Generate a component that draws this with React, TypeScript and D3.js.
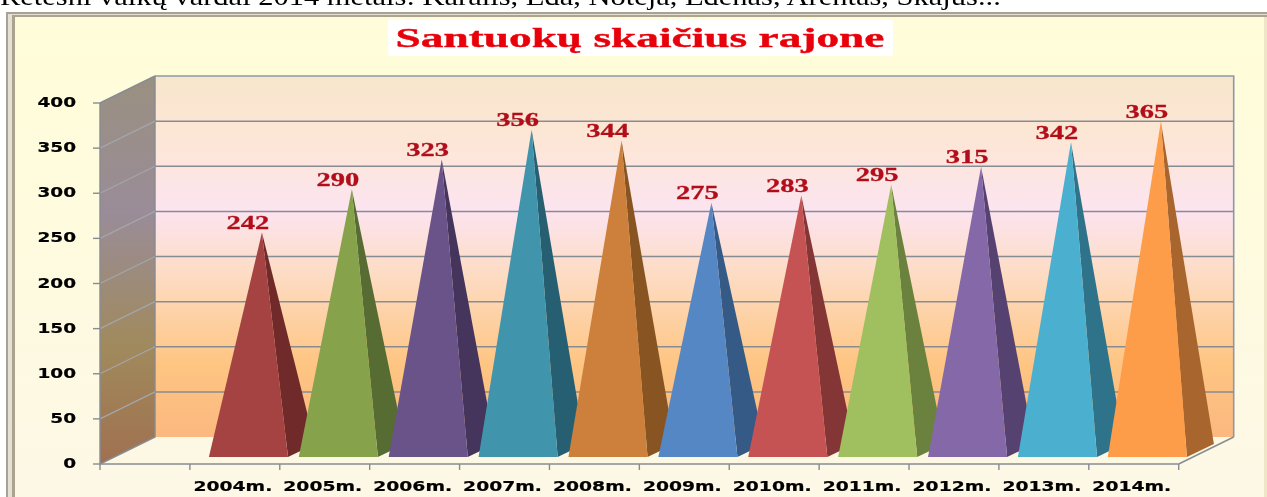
import * as d3 from 'd3';
import { useEffect, useRef } from 'react';

const years = ['2004m.', '2005m.', '2006m.', '2007m.', '2008m.', '2009m.', '2010m.', '2011m.', '2012m.', '2013m.', '2014m.'];
const marriages = [242, 290, 323, 356, 344, 275, 283, 295, 315, 342, 365];
const frontColors = ['#a54343', '#86a24c', '#6b5389', '#3f94ab', '#cd803a', '#5587c4', '#c65353', '#a0bf5e', '#8568a8', '#4cb0cf', '#fd9c48'];
const sideColors = ['#6f2c2c', '#566c30', '#44355b', '#285f72', '#885524', '#365a85', '#843636', '#6b823c', '#574370', '#2f7389', '#a8662f'];
const yTicks = [0, 50, 100, 150, 200, 250, 300, 350, 400];
const titleText = 'Santuokų skaičius rajone';
const topLine = 'Retesni vaikų vardai 2014 metais: Karalis, Eda, Noteja, Edenas, Arentas, Skajus...';

const W = 1267;
const H = 497;

function App() {
    const svgRef = useRef<SVGSVGElement>(null);

    useEffect(() => {
        const svg = d3.select(svgRef.current);
        svg.selectAll('*').remove();

        // first band stays empty in the original chart
        const x = d3.scaleBand().domain(['', ...years]).range([100, 1178.7]);
        const y = d3.scaleLinear().domain([0, 400]).range([464, 103]);
        const depth = { dx: 55, dy: -27 };
        const right = x.range()[1];

        const defs = svg.append('defs');
        const grad = (id: string, stops: [number, string][]) => {
            const g = defs.append('linearGradient').attr('id', id).attr('x1', 0).attr('y1', 0).attr('x2', 0).attr('y2', 1);
            stops.forEach(([o, c]) => g.append('stop').attr('offset', o).attr('stop-color', c));
        };
        grad('wallGrad', [[0, '#f8e6cc'], [0.2, '#fde6d8'], [0.37, '#fce4f0'], [0.55, '#fddcc4'], [0.8, '#fec582'], [1, '#fbb880']]);
        grad('sideGrad', [[0, '#9a9080'], [0.35, '#9a8c98'], [0.7, '#a08a5c'], [1, '#a07050']]);
        grad('paneGrad', [[0, '#fffdd9'], [1, '#fdf8e6']]);
        defs.append('filter').attr('id', 'soft')
            .append('feGaussianBlur').attr('stdDeviation', 0.45);

        const root = svg.append('g').attr('filter', 'url(#soft)');

        root.append('rect').attr('width', W).attr('height', H).attr('fill', '#fff');

        // text line cut off above the frame
        root.append('text')
            .attr('x', 0).attr('y', 5)
            .attr('transform', 'scale(1.22,1)')
            .attr('font-family', 'Liberation Serif')
            .attr('font-size', 25)
            .attr('fill', '#000')
            .text(topLine);

        // frame
        root.append('rect').attr('x', 6).attr('y', 12).attr('width', W).attr('height', H).attr('fill', '#a8a296');
        root.append('rect').attr('x', 8).attr('y', 14).attr('width', W).attr('height', H).attr('fill', '#e4e0d4');
        root.append('rect').attr('x', 12).attr('y', 15).attr('width', W).attr('height', H).attr('fill', '#aba390');
        root.append('rect').attr('x', 15).attr('y', 17).attr('width', W).attr('height', H).attr('fill', 'url(#paneGrad)');
        root.append('rect').attr('x', 1264).attr('y', 17).attr('width', 3).attr('height', H).attr('fill', '#efe6c8');

        // title
        root.append('rect').attr('x', 388).attr('y', 20).attr('width', 505).attr('height', 36).attr('fill', '#fff');
        root.append('text')
            .attr('transform', 'translate(640,47) scale(1.62,1)')
            .attr('text-anchor', 'middle')
            .attr('font-family', 'Liberation Serif')
            .attr('font-weight', 'bold')
            .attr('font-size', 28)
            .attr('fill', '#e8060c')
            .attr('stroke', '#e8060c').attr('stroke-width', 0.4)
            .text(titleText);

        // walls and floor
        const bottom = y(0);
        const top = y(400);
        const gridColor = '#878b92';
        const sideLine = '#a3a6ab';
        root.append('path')
            .attr('d', `M100,${bottom}L${100 + depth.dx},${bottom + depth.dy}L${100 + depth.dx},${top + depth.dy}L100,${top}Z`)
            .attr('fill', 'url(#sideGrad)');
        root.append('rect')
            .attr('x', 100 + depth.dx).attr('y', top + depth.dy)
            .attr('width', right - 100).attr('height', bottom - top)
            .attr('fill', 'url(#wallGrad)');
        root.append('path')
            .attr('d', `M${100 + depth.dx},${top + depth.dy}H${right + depth.dx}V${bottom + depth.dy}`)
            .attr('fill', 'none')
            .attr('stroke', '#8a98ac').attr('stroke-width', 1.6);
        root.append('path')
            .attr('d', `M100,${bottom}L${100 + depth.dx},${bottom + depth.dy}L${right + depth.dx},${bottom + depth.dy}L${right},${bottom}Z`)
            .attr('fill', '#fdf8e4');
        root.append('path')
            .attr('d', `M100,${bottom}L${100 + depth.dx},${bottom + depth.dy}V${top + depth.dy}M${right},${bottom}L${right + depth.dx},${bottom + depth.dy}`)
            .attr('fill', 'none')
            .attr('stroke', gridColor).attr('stroke-width', 1.4);
        root.append('line')
            .attr('x1', 100).attr('x2', right).attr('y1', bottom).attr('y2', bottom)
            .attr('stroke', gridColor).attr('stroke-width', 1.6);

        // grid lines
        yTicks.filter(d => d > 0 && d < 400).forEach(d => {
            root.append('line')
                .attr('x1', 100).attr('y1', y(d))
                .attr('x2', 100 + depth.dx).attr('y2', y(d) + depth.dy)
                .attr('stroke', sideLine).attr('stroke-width', 1.2);
            root.append('line')
                .attr('x1', 100 + depth.dx).attr('y1', y(d) + depth.dy)
                .attr('x2', right + depth.dx).attr('y2', y(d) + depth.dy)
                .attr('stroke', gridColor).attr('stroke-width', 1.5);
        });
        root.append('path')
            .attr('d', `M100,${top}L${100 + depth.dx},${top + depth.dy}`)
            .attr('stroke', gridColor).attr('stroke-width', 1.4);
        root.append('line')
            .attr('x1', 100).attr('x2', 100).attr('y1', top).attr('y2', bottom)
            .attr('stroke', gridColor).attr('stroke-width', 1.4);

        // y axis
        yTicks.forEach(d => {
            root.append('line')
                .attr('x1', 93).attr('x2', 100).attr('y1', y(d)).attr('y2', y(d))
                .attr('stroke', gridColor).attr('stroke-width', 1.4);
            root.append('text')
                .attr('transform', `translate(76,${y(d) + 4}) scale(1.37,1)`)
                .attr('text-anchor', 'end')
                .attr('font-family', 'DejaVu Sans')
                .attr('font-weight', 'bold')
                .attr('font-size', 13.5)
                .attr('fill', '#000')
                .attr('stroke', '#000').attr('stroke-width', 0.2)
                .text(d);
        });

        // x axis ticks sit on the band edges
        [...x.domain().map(d => x(d) as number), right].forEach(t => {
            root.append('line')
                .attr('x1', t).attr('x2', t).attr('y1', bottom).attr('y2', bottom + 6)
                .attr('stroke', gridColor).attr('stroke-width', 1.4);
        });
        years.forEach(d => {
            root.append('text')
                .attr('transform', `translate(${(x(d) as number) + x.bandwidth() / 2 - 2},491) scale(1.39,1)`)
                .attr('text-anchor', 'middle')
                .attr('font-family', 'DejaVu Sans')
                .attr('font-weight', 'bold')
                .attr('font-size', 13.5)
                .attr('fill', '#000')
                .attr('stroke', '#000').attr('stroke-width', 0.2)
                .text(d);
        });

        // pyramids, each one drawn over the previous one
        const baseW = x.bandwidth() * 0.88;
        const baseOff = 19;
        const front = bottom - 7;
        const back = { dx: 27, dy: -13 };
        years.forEach((d, i) => {
            const x0 = (x(d) as number) + baseOff;
            const x1 = x0 + baseW;
            const apexX = (x0 + x1 + back.dx) / 2;
            const apexY = y(marriages[i]) - 13;
            root.append('path')
                .attr('d', `M${apexX},${apexY}L${x1},${front}L${x1 + back.dx},${front + back.dy}Z`)
                .attr('fill', sideColors[i]);
            root.append('path')
                .attr('d', `M${apexX},${apexY}L${x0},${front}L${x1},${front}Z`)
                .attr('fill', frontColors[i]);
            root.append('text')
                .attr('transform', `translate(${apexX - 14},${apexY - 3.5}) scale(1.5,1)`)
                .attr('text-anchor', 'middle')
                .attr('font-family', 'Liberation Serif')
                .attr('font-weight', 'bold')
                .attr('font-size', 19)
                .attr('fill', '#b2101a')
                .attr('stroke', '#b2101a').attr('stroke-width', 0.3)
                .text(marriages[i]);
        });
    }, []);

    return (
        <svg ref={svgRef} width={W} height={H} style={{ position: 'fixed', left: 0, top: 0, display: 'block' }} />
    );
}

export default App;
